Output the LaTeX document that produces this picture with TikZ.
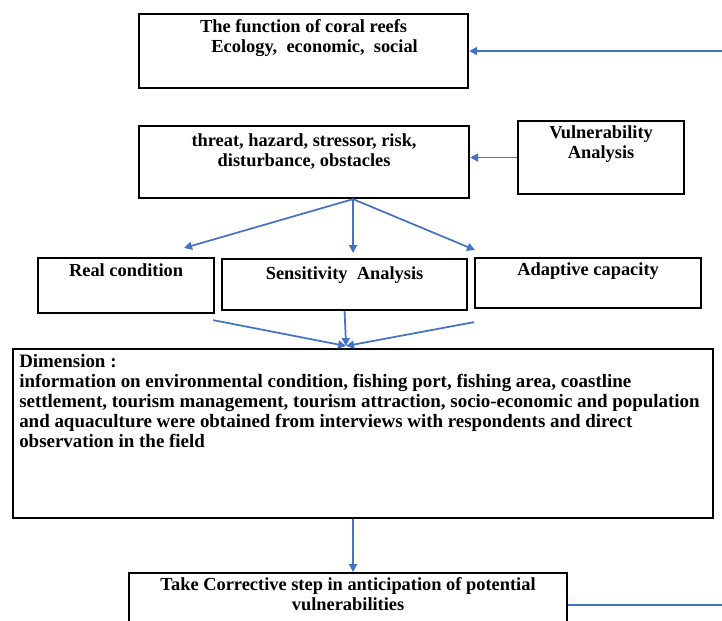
\documentclass[tikz,border=0pt]{standalone}
\usepackage{fontspec}
\setmainfont{Liberation Serif}
\usetikzlibrary{arrows.meta,calc}
\definecolor{arrblue}{HTML}{4472C4}
\begin{document}
\begin{tikzpicture}[x=0.75pt,y=-0.75pt,
  box/.style={draw=black,line width=1.6pt,rectangle,inner sep=0pt,anchor=north west},
  lbl/.style={font=\fontsize{13.8}{15.5}\selectfont\bfseries,align=center,inner sep=0pt,anchor=north},
  dimlbl/.style={font=\fontsize{14.2}{15.1}\selectfont\bfseries,align=left,inner sep=0pt,anchor=north west},
  arr/.style={draw=arrblue,line width=1.3pt,-{Triangle[length=6pt,width=6pt]}},
  lin/.style={draw=arrblue,line width=1.3pt}]
\useasboundingbox (0,0) rectangle (722,621);
\clip (0,0) rectangle (722,621);
% boxes
\node[box,minimum width=246.75pt,minimum height=55.5pt] (f1) at (138,13) {};
\node[box,minimum width=247.5pt,minimum height=54pt] (threat) at (138,125) {};
\node[box,minimum width=124.5pt,minimum height=54.75pt] (vuln) at (517,120) {};
\node[box,minimum width=132pt,minimum height=41.25pt] (real) at (37,257) {};
\node[box,minimum width=183.75pt,minimum height=38.25pt] (sens) at (221,258) {};
\node[box,minimum width=169.5pt,minimum height=37.5pt] (adapt) at (474,257) {};
\node[box,minimum width=525pt,minimum height=126.75pt] (dim) at (12,348) {};
\node[box,minimum width=328.5pt,minimum height=48pt] (corr) at (128,572) {};
% texts
\node[lbl] (f1t) at ($(f1.north)+(0,6)$) {The function of coral reefs\\ \hspace{1.2em}Ecology,\ \ economic,\ \ social};
\node[lbl] (threatt) at ($(threat.north)+(0,8)$) {threat, hazard, stressor, risk,\\ disturbance, obstacles};
\node[lbl] (vulnt) at ($(vuln.north)+(0,5)$) {Vulnerability\\ Analysis};
\node[lbl] (realt) at ($(real.north)+(0,6)$) {Real condition};
\node[lbl] (senst) at ($(sens.north)+(0,8)$) {Sensitivity\ \ Analysis};
\node[lbl] (adaptt) at ($(adapt.north)+(0,5)$) {Adaptive capacity};
\node[dimlbl] (dimt) at ($(dim.north west)+(7,6)$) {Dimension :\\
information on environmental condition, fishing port, fishing area, coastline\\
settlement, tourism management, tourism attraction, socio-economic and population\\
and aquaculture were obtained from interviews with respondents and direct\\
observation in the field};
\node[lbl] (corrt) at ($(corr.north)+(0,5)$) {Take Corrective step in anticipation of potential\\ vulnerabilities};
% connectors
\draw[arr] (vuln.west) -- (threat.east |- vuln.west);
\coordinate (ts) at ($(threat.south)+(49,0)$);
\draw[arr] (ts) -- ($(real.north)+(58,-9)$);
\draw[arr] (ts) -- ($(sens.north)+(8.5,-5)$);
\draw[arr] (ts) -- ($(adapt.north west)+(1,-7)$);
\coordinate (dm) at ($(dim.north)+(-17,-2)$);
\draw[arr] ($(real.south east)+(-2,6)$) -- (dm);
\draw[arr] (sens.south) -- (dm);
\draw[arr] ($(adapt.south west)+(0,13)$) -- (dm);
\coordinate (dd) at ($(dim.south)+(-10,0)$);
\draw[arr] (dd) -- (dd |- corr.north);
\coordinate (lpX) at (740,0);
\draw[arr] (corr.east) -- (corr.east -| lpX) -- (f1.east -| lpX) -- (f1.east);
\end{tikzpicture}
\end{document}
